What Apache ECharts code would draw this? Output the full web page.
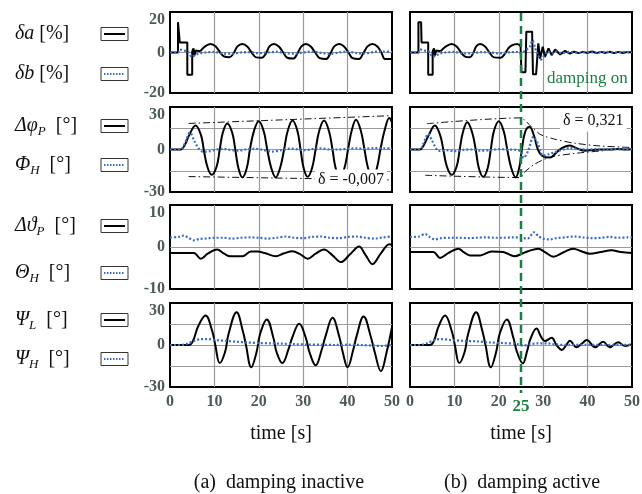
<!DOCTYPE html>
<html><head><meta charset="utf-8">
<script src="https://cdn.jsdelivr.net/npm/echarts@6/dist/echarts.min.js"></script>
<style>html,body{margin:0;padding:0;background:#fff}#c{width:642px;height:494px}</style>
</head><body><div id="c"></div>
<script>
// ---------- data (time [s], value) ----------
const xTicks = [0, 10, 20, 30, 40, 50];
const dampingOnTime = 25;
const delta_inactive = 'δ = -0,007';
const delta_active = 'δ = 0,321';

// Row 1: δa (black) / δb (blue), damping inactive
const daStepL = [[0,0],[1.8,0],[1.8,15],[2.1,15],[2.2,5],[3.9,5],[3.9,-11],[5.0,-11],[5.0,0.5],[5.3,2],[5.5,-1.5],[5.8,1],[6.2,0.3],[6.8,0.6]];
const daOscL = [[6.8,0.6],[7.9,3],[9.1,4.2],[10.3,3],[11.3,0],[12.2,-2],[13.4,-2.3],[14.3,-0.5],[15.2,3],[16.3,4.2],[17.4,3],[18.4,0],[19.4,-2.4],[20.7,-2.6],[21.6,-0.5],[22.4,3],[23.4,4.2],[24.5,3],[25.5,0],[26.4,-2.6],[27.8,-3],[28.7,-0.5],[29.6,3],[30.6,4.2],[31.7,3],[32.7,0],[33.7,-2.8],[35.2,-3.2],[36.1,-0.5],[37.0,3],[38.1,4.2],[39.2,3],[40.2,0],[41.1,-2.8],[42.6,-3.2],[43.5,-0.5],[44.5,3],[45.6,4.2],[46.7,3],[47.6,0],[48.4,-3.2],[50,-3.2]];
const dbL = [[0,0],[1.8,0],[2.2,1.5],[3,1],[4,0.5],[5,-2.2],[5.5,-1.5],[6.5,-0.5],[8,0],[10,0.3],[12,-0.5],[14,-0.6],[16,0],[18,0.2],[20,-0.3],[22,0],[24,0.4],[26,-0.3],[28,-0.6],[30,0],[32,0.5],[34,-0.2],[36,-0.7],[38,0],[40,0.5],[42,-0.3],[44,-0.5],[46,0.3],[48,0.5],[50,0.3]];
// Row 1, damping active
const daStepR1 = [[0,0],[1.9,0],[1.9,15],[2.5,15],[2.6,5],[4.1,5],[4.1,-11],[5.1,-11],[5.1,0.5],[5.4,2],[5.6,-1.5],[5.9,1],[6.3,0.3],[6.9,0.6]];
const daOscR1 = [[6.9,0.6],[8.1,3],[9.4,4.2],[10.5,3],[11.5,0],[12.4,-2],[13.5,-2.3],[14.3,0],[14.9,3],[15.8,4.2],[16.9,3],[17.9,0],[18.9,-2.4],[20.4,-2.6],[21.4,-0.5],[22.3,2.5],[23.5,4],[24.4,4.2]];
const daStepR2 = [[24.4,4.2],[24.9,3],[25.1,-9.7],[26.0,-9.7],[26.2,10.3],[27.5,10.3],[27.7,-10.8],[28.4,-10.8],[28.9,4.5],[29.3,-3],[29.9,2.8],[30.4,-2.2],[31.2,2],[31.9,-1.3],[32.7,1.5],[33.8,-1],[34.9,0.8],[36.0,-0.5],[37,0.4],[38,-0.3],[39,0.3],[40,-0.2],[41,0.5],[42,-0.3],[43,0.3],[44,-0.2],[45,0.4],[46,-0.3],[47,0.3],[48,-0.2],[49,0.3],[50,0]];
const dbR = [[0,0],[1.9,0],[2.3,1.5],[3,1],[4.2,0.5],[5.2,-2.2],[5.8,-1.5],[6.8,-0.5],[8,0],[10,0.3],[12,-0.5],[14,-0.4],[16,0.2],[18,0],[20,-0.4],[22,0],[24,0.3],[25,-0.5],[26,1],[27,3],[27.6,6],[28.2,2],[28.8,-1],[29.5,-3.5],[30.2,-1.5],[31,0.5],[32,-0.5],[33,0.5],[34,-0.3],[36,0.3],[38,-0.2],[40,0.2],[42,0],[44,0.3],[46,0],[48,0.2],[50,0]];

// Row 2: Δφ_P (black) / Φ_H (blue)
const phiPL = [[0,0],[2.4,0],[3.3,3],[4.3,10],[5.75,17],[7.0,10],[7.6,0],[8.4,-12],[9.4,-17.9],[10.5,-12],[11.2,0],[11.9,12],[12.9,18.4],[14.0,12],[14.7,0],[15.4,-13],[16.3,-19.7],[17.3,-13],[18,0],[18.9,13],[20.0,20],[21.1,13],[21.9,0],[22.8,-13],[23.8,-19.7],[24.8,-13],[25.7,0],[26.5,13],[27.6,20.4],[28.7,13],[29.4,0],[30.1,-13],[31.0,-19.3],[32,-13],[32.8,0],[33.6,13],[34.7,20.4],[35.8,13],[36.6,0],[37.3,-13],[38.3,-20],[39.3,-13],[40.1,0],[40.9,13],[41.9,21],[43,13],[43.8,0],[44.6,-13],[45.6,-20.5],[46.6,-13],[47.4,0],[48.3,13],[49.4,22.2],[50,19]];
const phiHL = [[0,0],[2.4,0],[3.3,4],[4.5,12],[5.5,6],[6.5,0.5],[7.5,-1.6],[9,-1.2],[10.5,0],[12,0.5],[13.5,-0.3],[15.5,-0.8],[17,0],[19,0.6],[21,-0.3],[23,-1.5],[25,-0.5],[27,0.6],[29,0],[30.5,-0.5],[32,0.3],[34,0.8],[36,0],[38,0],[40,0.5],[42,0.8],[44,0.5],[46,1],[48,0.8],[50,0.8]];
const envUpL = [[4.2,18.4],[50,23.9]];
const envLoL = [[4.2,-19.1],[50,-21.5]];
const phiPR = [[0,0],[2.25,0],[3.1,3],[4.2,10],[5.6,17],[6.8,10],[7.5,0],[8.3,-12],[9.4,-17.9],[10.5,-12],[11.2,0],[11.9,12],[12.9,19.3],[14,12],[14.8,0],[15.5,-13],[16.5,-19.3],[17.5,-13],[18.2,0],[18.9,13],[20,20],[21.1,13],[21.9,0],[22.8,-13],[23.8,-19.7],[24.6,-13],[25.2,0],[25.9,12],[26.9,16],[27.9,10],[28.8,0],[29.8,-4.5],[31.5,-5.7],[33,-2],[34.5,1.5],[36,2.9],[37.5,1],[39.4,-0.9],[41,-0.3],[43,0],[45,0],[47,0.3],[48.5,0],[50,0.1]];
const phiHR = [[0,0],[2.25,0],[3.0,4],[4.1,11],[5,6],[6.5,-1],[8,-0.5],[10,-1.2],[12,-0.3],[14,0],[16,-0.8],[18,-0.5],[20,0.3],[22,0],[24,-0.3],[25,-1.5],[25.6,-6],[26.6,-1],[27.8,9],[28.8,4],[30,-4.3],[31.1,-3.5],[32.5,-2],[34,-0.5],[36,1.1],[38,0.3],[40,0],[42,0.3],[44,-0.2],[46,0.2],[48,0],[50,0.2]];
const envUpR = [[3.8,18.2],[24.8,22.3],[27.5,15.5],[29.5,10.4],[33,7],[37,4.5],[42.8,2.5],[50,1.4]];
const envLoR = [[3.4,-18.2],[24.8,-19.8],[25.9,-15.7],[28,-10.5],[31.5,-5.5],[37,-2.8],[43.5,-0.9]];

// Row 3: Δϑ_P (black) / Θ_H (blue)
const thPL = [[0,-1.4],[5.4,-1.4],[6.9,-2.8],[8.5,-1.6],[10.6,-0.6],[12.2,-1.6],[13.6,-2.2],[16.3,-2.2],[18.2,-1.1],[19.7,-1.1],[21.5,-1.5],[23.8,-2.2],[25.7,-1.5],[27.6,-1.0],[29.3,-1.7],[31.0,-2.8],[32.8,-1.6],[34.7,-0.6],[36.6,-2],[38.5,-3.6],[40.5,-1.8],[42.6,0.1],[44.1,-2],[45.6,-4.1],[47.5,-1.5],[49.4,0.65],[50,0.5]];
const thHL = [[0,2.3],[2,2.4],[3,2.7],[4,2.3],[5.4,1.6],[6.5,1.9],[8,2.0],[10,2.2],[12,2.2],[14,2.0],[16,2.2],[18,2.3],[20,2.2],[22,2.0],[24,2.2],[26,2.5],[28,2.2],[30,2.1],[32,2.4],[34,2.5],[36,2.2],[38,2.1],[40,2.4],[42,2.5],[44,2.2],[46,2.0],[48,2.3],[50,2.5]];
const thPR = [[0,-1.2],[5.3,-1.2],[6.75,-2.6],[8.7,-1.4],[10.9,-0.4],[12.2,-1.3],[13.5,-2.0],[15.8,-2.0],[18.4,-1.05],[21,-1.2],[23.6,-2.2],[25.2,-1.6],[26.6,-1.0],[28.9,-0.4],[30.5,-1.3],[32.3,-2.3],[34.5,-1.3],[36.8,-0.4],[38.6,-1.0],[40.5,-1.6],[43,-1.2],[45.4,-0.8],[47.5,-1.2],[50,-1.4]];
const thHR = [[0,2.4],[2,2.5],[3.4,3.1],[4.4,2.4],[5.6,1.8],[7,2.1],[9,2.2],[11,2.2],[13,2.1],[15,2.2],[17,2.3],[19,2.2],[21,2.2],[23,2.3],[25,2.2],[26.5,2.0],[27.9,3.5],[29,2.5],[30,2.0],[31.5,1.8],[33,2.1],[35,2.3],[37,2.5],[39,2.3],[41,2.1],[43,2.2],[45,2.4],[47,2.2],[49,2.3],[50,2.3]];

// Row 4: Ψ_L (black) / Ψ_H (blue)
const psiLL = [[0,0],[4.25,0],[5.2,3],[6.3,13],[8.0,21],[9.5,10],[10.2,0],[11.2,-12.9],[12.4,-5],[13.2,8],[15.0,23.4],[16.4,10],[17.1,0],[18.3,-15.9],[19.5,-5],[20.3,8],[21.8,18.3],[23.3,5],[24,-5],[25.3,-12.9],[26.7,-3],[27.5,5],[29.1,15.2],[30.6,5],[31.4,-5],[32.8,-14.5],[34.2,-3],[35,6],[36.6,19.4],[38.2,5],[38.9,-5],[40.0,-15.9],[41.3,-3],[42,6],[43.6,20.4],[45.3,5],[46.1,-5],[47.5,-18.7],[48.8,-5],[50,12.9]];
const psiHL = [[0,0],[2.4,0],[4,1],[5.5,3],[6.9,4.2],[8.5,4.2],[10.5,3.5],[13,2.8],[15,2.3],[17.5,1.8],[20,1.4],[22.5,1.2],[25,1],[28,0.6],[31,0.3],[34,0.2],[37,0],[40,0.2],[43,0],[46,-0.5],[47.5,-0.7],[50,0]];
const psiLR = [[0,0],[4.5,0],[5.4,3],[6.4,13],[7.9,21],[9.4,10],[10.1,0],[11.1,-12.9],[12.3,-5],[13.1,8],[14.9,23.4],[16.3,10],[17,0],[18.2,-15.9],[19.4,-5],[20.2,8],[21.8,18.3],[23.3,5],[24.1,-5],[25.4,-13.1],[26.4,-4],[27.2,5],[28.5,11.7],[29.5,6],[30.4,2.8],[31.9,5.1],[33,0],[34.2,-3.5],[35.2,0],[36,3.0],[37.5,-1.6],[38.7,1],[39.8,3.5],[41.7,-1.6],[43.5,2.3],[45,-1.6],[46.9,1.9],[48.4,-0.7],[50,0.5]];
const psiHR = [[0,0],[2.25,0],[4,1.5],[5.5,3.5],[6.75,4.2],[9,3.6],[12,3],[15,2.6],[18,1.8],[21,1.4],[24,0.7],[25.5,-0.5],[27,0.5],[28.5,1.2],[31,1.2],[33,0.3],[36,0],[40,0.2],[44,0],[48,0.2],[50,0]];

// ---------- chart ----------
const FONT = 'Liberation Serif';
const TICK = '#4e5a5a';
const BLUE = '#3a6cc6';
const GREEN = '#1a8040';
const GRIDC = '#9a9a9a';

const gridDefs = [
  {left:170, top:12, width:222, height:81}, {left:410, top:12, width:222, height:81},
  {left:170, top:107, width:222, height:85}, {left:410, top:107, width:222, height:85},
  {left:170, top:205, width:222, height:84}, {left:410, top:205, width:222, height:84},
  {left:170, top:303, width:222, height:84}, {left:410, top:303, width:222, height:84}
];
const yRanges = [[-20,20,20],[-20,20,20],[-30,30,15],[-30,30,15],[-10,10,10],[-10,10,10],[-30,30,15],[-30,30,15]];

const grid = gridDefs.map(g => Object.assign({show:true, borderColor:'#000', borderWidth:2, backgroundColor:'#fff', containLabel:false, outerBoundsMode:'none'}, g));
const xAxis = gridDefs.map((g, i) => ({
  type:'value', gridIndex:i, min:xTicks[0], max:xTicks[xTicks.length-1], interval:10,
  axisLine:{show:false}, axisTick:{show:false},
  axisLabel:{show: i >= 6, fontFamily:FONT, fontWeight:'bold', fontSize:16, color:TICK, margin:7, showMinLabel:true, showMaxLabel:true},
  splitLine:{show:true, showMinLine:false, showMaxLine:false, lineStyle:{color:GRIDC, width:1.2}},
  name: i >= 6 ? 'time [s]' : '', nameLocation:'middle', nameGap:37,
  nameTextStyle:{fontFamily:FONT, fontSize:20, color:'#111'}
}));
const yAxis = gridDefs.map((g, i) => ({
  type:'value', gridIndex:i, min:yRanges[i][0], max:yRanges[i][1], interval:yRanges[i][2],
  axisLine:{show:false}, axisTick:{show:false},
  axisLabel:{show: i % 2 === 0, fontFamily:FONT, fontWeight:'bold', fontSize:16, color:TICK, margin:5,
    verticalAlignMaxLabel:'top',
    formatter: v => (v === 0 || Math.abs(v) === yRanges[i][1]) ? String(v) : ''},
  splitLine:{show:true, showMinLine:false, showMaxLine:false, lineStyle:{color:GRIDC, width:1.2}}
}));

function mk(gi, data, kind, smooth) {
  let ls;
  if (kind === 'k') ls = {color:'#000', width:2};
  else if (kind === 'b') ls = {color:BLUE, width:2.2, type:[2,2]};
  else ls = {color:'#111', width:1, type:[7,3,1.5,3]};
  return {type:'line', xAxisIndex:gi, yAxisIndex:gi, data:data, symbol:'none', showSymbol:false,
    smooth: smooth || false, lineStyle:ls, itemStyle:{color:ls.color}, silent:true, animation:false,
    z: kind === 'b' ? 3 : 2};
}

const series = [
  mk(0, daStepL, 'k'), mk(0, daOscL, 'k', 0.35), mk(0, dbL, 'b', 0.3),
  mk(1, daStepR1, 'k'), mk(1, daOscR1, 'k', 0.35), mk(1, daStepR2, 'k'), mk(1, dbR, 'b', 0.3),
  mk(2, envUpL, 'e'), mk(2, envLoL, 'e'), mk(2, phiPL, 'k', 0.4), mk(2, phiHL, 'b', 0.3),
  mk(3, envUpR, 'e', 0.3), mk(3, envLoR, 'e', 0.3), mk(3, phiPR, 'k', 0.4), mk(3, phiHR, 'b', 0.3),
  mk(4, thPL, 'k', 0.35), mk(4, thHL, 'b', 0.3),
  mk(5, thPR, 'k', 0.35), mk(5, thHR, 'b', 0.3),
  mk(6, psiLL, 'k', 0.4), mk(6, psiHL, 'b', 0.3),
  mk(7, psiLR, 'k', 0.4), mk(7, psiHR, 'b', 0.3)
];

const chart = echarts.init(document.getElementById('c'), null, {renderer:'canvas'});
chart.setOption({animation:false, backgroundColor:'#fff', grid, xAxis, yAxis, series});

// ---------- annotations ----------
const rich = {
  i:{fontFamily:FONT, fontStyle:'italic', fontSize:20, fill:'#111'},
  s:{fontFamily:FONT, fontStyle:'italic', fontSize:13, fill:'#111', padding:[11,0,0,0]},
  n:{fontFamily:FONT, fontSize:20, fill:'#111'}
};
const legendItems = [
  {t:'{i|δa} {n|[%]}', y:34, k:'k'}, {t:'{i|δb} {n|[%]}', y:74, k:'b'},
  {t:'{i|Δφ}{s|P}  {n|[°]}', y:126, k:'k'}, {t:'{i|Φ}{s|H}  {n|[°]}', y:165, k:'b'},
  {t:'{i|Δϑ}{s|P}  {n|[°]}', y:226, k:'k'}, {t:'{i|Θ}{s|H}  {n|[°]}', y:273, k:'b'},
  {t:'{i|Ψ}{s|L}  {n|[°]}', y:320, k:'k'}, {t:'{i|Ψ}{s|H}  {n|[°]}', y:359, k:'b'}
];
const graphic = [];
legendItems.forEach(it => {
  graphic.push({type:'text', x:15, y:it.y, z:50, style:{text:it.t, rich:rich, align:'left', verticalAlign:'middle', fontFamily:FONT, fontSize:20, fill:'#111'}});
  graphic.push({type:'rect', x:101, y:it.y-6.5, z:50, shape:{x:0, y:0, width:27, height:13}, style:{fill:'#fff', stroke:'#333', lineWidth:1}});
  graphic.push({type:'line', z:51, shape:{x1:104, y1:it.y, x2:125, y2:it.y},
    style: it.k === 'k' ? {stroke:'#000', lineWidth:2} : {stroke:BLUE, lineWidth:2, lineDash:[1.5,1.5]}});
});

const xp = chart.convertToPixel({xAxisIndex:1}, dampingOnTime);
graphic.push({type:'line', z:60, shape:{x1:xp, y1:13, x2:xp, y2:393}, style:{stroke:GREEN, lineWidth:2.5, lineDash:[8,5]}});
graphic.push({type:'text', z:60, x:xp, y:407, style:{text:String(dampingOnTime), align:'center', verticalAlign:'middle', fontFamily:FONT, fontWeight:'bold', fontSize:17, fill:GREEN}});
graphic.push({type:'text', z:60, x:547, y:79, style:{text:'damping on', align:'left', verticalAlign:'middle', fontFamily:FONT, fontSize:17, fill:GREEN}});
graphic.push({type:'text', z:60, x:315, y:180, style:{text:delta_inactive, align:'left', verticalAlign:'middle', fontFamily:FONT, fontSize:16, fill:'#111', backgroundColor:'#fff', padding:[3,3,2,3]}});
graphic.push({type:'text', z:60, x:560, y:121, style:{text:delta_active, align:'left', verticalAlign:'middle', fontFamily:FONT, fontSize:16, fill:'#111', backgroundColor:'#fff', padding:[3,3,2,3]}});
graphic.push({type:'text', z:60, x:279, y:483, style:{text:'(a)  damping inactive', align:'center', verticalAlign:'middle', fontFamily:FONT, fontSize:20, fill:'#111'}});
graphic.push({type:'text', z:60, x:522, y:483, style:{text:'(b)  damping active', align:'center', verticalAlign:'middle', fontFamily:FONT, fontSize:20, fill:'#111'}});

chart.setOption({graphic: graphic});
</script></body></html>
